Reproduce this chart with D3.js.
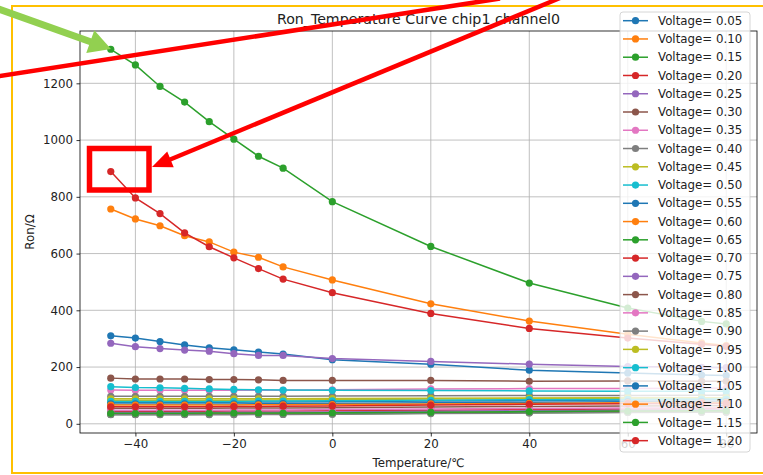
<!DOCTYPE html>
<html>
<head>
<meta charset="utf-8">
<script src="https://cdn.jsdelivr.net/npm/d3@7"></script>
<style>
  body { margin: 0; background: #fff; }
  svg { display: block; font-family: "DejaVu Sans", sans-serif; }
</style>
</head>
<body>
<div id="chart"></div>
<script>
// Temperatures (x) and the legend voltages
var temperatures = [-45, -40, -35, -30, -25, -20, -15, -10, 0, 20, 40, 60, 75, 80];
var voltages = ["0.05", "0.10", "0.15", "0.20", "0.25", "0.30", "0.35", "0.40", "0.45", "0.50",
                "0.55", "0.60", "0.65", "0.70", "0.75", "0.80", "0.85", "0.90", "0.95", "1.00",
                "1.05", "1.10", "1.15", "1.20"];

// Ron values, one array per voltage
var ron_005 = [310, 302, 290, 278, 268, 261, 253, 246, 226, 210, 189, 179, 172, 170];
var ron_010 = [757, 722, 698, 663, 641, 605, 587, 553, 507, 423, 362, 316, 285, 276];
var ron_015 = [1320, 1265, 1189, 1134, 1065, 1003, 943, 901, 783, 625, 496, 408, 361, 352];
var ron_020 = [889, 796, 741, 673, 624, 585, 547, 510, 462, 389, 336, 302, 280, 273];
var ron_025 = [284, 272, 265, 260, 256, 247, 241, 241, 230, 220, 210, 202, 199, 198];
var ron_030 = [161, 158, 158, 158, 156, 156, 155, 153, 153, 153, 150, 151, 150, 150];
var ron_035 = [119, 118, 118, 118, 118, 118, 118, 118, 120, 123, 124, 124, 125, 125];
var ron_040 = [97, 97, 97, 97, 97, 97, 97, 97, 98, 99, 100, 100, 101, 101];
var ron_045 = [88, 88, 88, 88, 88, 88, 88, 88, 89, 90, 91, 92, 92, 92];
var ron_050 = [131, 128, 127, 125, 123, 121, 120, 119, 118, 117, 116, 115, 115, 115];
var ron_055 = [76, 76, 76, 76, 76, 76, 77, 77, 78, 80, 82, 84, 85, 85];
var ron_060 = [36, 36, 36, 36, 36, 37, 37, 37, 38, 40, 41, 43, 44, 44];
var ron_065 = [33, 33, 33, 33, 34, 34, 34, 34, 35, 37, 39, 41, 42, 42];
var ron_070 = [44, 44, 44, 44, 44, 45, 45, 45, 46, 48, 50, 52, 53, 53];
var ron_075 = [40, 40, 40, 40, 40, 41, 41, 41, 42, 44, 46, 48, 49, 49];
var ron_080 = [55, 55, 55, 55, 55, 56, 56, 56, 57, 59, 61, 63, 64, 64];
var ron_085 = [48, 48, 48, 48, 48, 49, 49, 49, 50, 52, 54, 56, 57, 57];
var ron_090 = [32, 32, 32, 32, 32, 32, 33, 33, 34, 36, 38, 40, 41, 41];
var ron_095 = [83, 83, 83, 83, 83, 83, 84, 84, 85, 87, 89, 90, 91, 91];
var ron_100 = [79, 79, 79, 79, 79, 79, 80, 80, 81, 83, 85, 86, 87, 87];
var ron_105 = [70, 70, 70, 70, 70, 70, 71, 71, 72, 74, 76, 78, 79, 79];
var ron_110 = [66, 66, 66, 66, 66, 66, 67, 67, 68, 70, 72, 74, 75, 75];
var ron_115 = [37, 37, 37, 37, 38, 38, 38, 38, 39, 41, 43, 45, 46, 46];
var ron_120 = [60, 60, 60, 60, 60, 61, 61, 62, 63, 66, 69, 71, 72, 72];

var x_ticks = [-40, -20, 0, 20, 40, 60, 80];
var y_ticks = [0, 200, 400, 600, 800, 1000, 1200];

var all_series = [ron_005, ron_010, ron_015, ron_020, ron_025, ron_030, ron_035, ron_040,
                  ron_045, ron_050, ron_055, ron_060, ron_065, ron_070, ron_075, ron_080,
                  ron_085, ron_090, ron_095, ron_100, ron_105, ron_110, ron_115, ron_120];

//Matplotlib tab10 colour cycle
var tab10 = ["#1f77b4", "#ff7f0e", "#2ca02c", "#d62728", "#9467bd",
             "#8c564b", "#e377c2", "#7f7f7f", "#bcbd22", "#17becf"];

var W = 763, H = 475;
var plot = {left: 80, right: 757, top: 31, bottom: 433};

var svg = d3.select("#chart").append("svg")
    .attr("width", W)
    .attr("height", H);

//Domains padded by 5% like matplotlib does
var xmin = d3.min(temperatures), xmax = d3.max(temperatures);
var ymin = d3.min(all_series, function(s) { return d3.min(s); }),
    ymax = d3.max(all_series, function(s) { return d3.max(s); });
var xpad = (xmax - xmin) * 0.05, ypad = (ymax - ymin) * 0.05;

var x = d3.scaleLinear()
    .domain([xmin - xpad, xmax + xpad])
    .range([plot.left, plot.right]);
var y = d3.scaleLinear()
    .domain([ymin - ypad, ymax + ypad])
    .range([plot.bottom, plot.top]);

//Grid
svg.append("g").selectAll("line")
    .data(x_ticks).enter().append("line")
    .attr("x1", function(d) { return x(d); })
    .attr("x2", function(d) { return x(d); })
    .attr("y1", plot.top).attr("y2", plot.bottom)
    .attr("stroke", "#b0b0b0").attr("stroke-width", 0.8);
svg.append("g").selectAll("line")
    .data(y_ticks).enter().append("line")
    .attr("y1", function(d) { return y(d); })
    .attr("y2", function(d) { return y(d); })
    .attr("x1", plot.left).attr("x2", plot.right)
    .attr("stroke", "#b0b0b0").attr("stroke-width", 0.8);

//Lines and markers, clipped to the axes
svg.append("clipPath").attr("id", "clip")
    .append("rect")
    .attr("x", plot.left).attr("y", plot.top)
    .attr("width", plot.right - plot.left)
    .attr("height", plot.bottom - plot.top);

var line = d3.line()
    .x(function(d, i) { return x(temperatures[i]); })
    .y(function(d) { return y(d); });

var lines_g = svg.append("g").attr("clip-path", "url(#clip)");
all_series.forEach(function(series, k) {
    var colour = tab10[k % 10];
    var g = lines_g.append("g");
    g.append("path")
        .attr("d", line(series))
        .attr("fill", "none")
        .attr("stroke", colour)
        .attr("stroke-width", 1.5);
    g.selectAll("circle")
        .data(series).enter().append("circle")
        .attr("cx", function(d, i) { return x(temperatures[i]); })
        .attr("cy", function(d) { return y(d); })
        .attr("r", 3.6)
        .attr("fill", colour);
});

//Axes (plain integers, no thousands comma)
var xAxis = d3.axisBottom(x).tickValues(x_ticks).tickSize(3.5).tickPadding(3.5).tickFormat(d3.format("d"));
var yAxis = d3.axisLeft(y).tickValues(y_ticks).tickSize(3.5).tickPadding(3.5).tickFormat(d3.format("d"));

var gx = svg.append("g")
    .attr("transform", "translate(0," + plot.bottom + ")")
    .call(xAxis);
var gy = svg.append("g")
    .attr("transform", "translate(" + plot.left + ",0)")
    .call(yAxis);
[gx, gy].forEach(function(g) {
    g.select(".domain").remove();
    g.selectAll("line").attr("stroke", "#000").attr("stroke-width", 0.8);
    g.selectAll("text")
        .attr("fill", "#222")
        .style("font-size", "11.8px")
        .style("font-family", "DejaVu Sans");
});

//Spines
svg.append("rect")
    .attr("x", plot.left).attr("y", plot.top)
    .attr("width", plot.right - plot.left)
    .attr("height", plot.bottom - plot.top)
    .attr("fill", "none")
    .attr("stroke", "#000")
    .attr("stroke-width", 0.8);

//Title and axis labels
svg.append("text")
    .attr("x", (plot.left + plot.right) / 2)
    .attr("y", 24)
    .attr("text-anchor", "middle")
    .style("font-size", "14.2px")
    .attr("fill", "#222")
    .text("Ron_Temperature Curve chip1 channel0");

svg.append("text")
    .attr("x", (plot.left + plot.right) / 2)
    .attr("y", 467)
    .attr("text-anchor", "middle")
    .style("font-size", "11.8px")
    .attr("fill", "#222")
    .text("Temperature/℃");

svg.append("text")
    .attr("transform", "translate(34," + ((plot.top + plot.bottom) / 2) + ") rotate(-90)")
    .attr("text-anchor", "middle")
    .style("font-size", "11.8px")
    .attr("fill", "#222")
    .text("Ron/Ω");

//Legend, center right
var leg = {x: 620, y: 12, w: 130, h: 440, row: 18.26, first: 20.7};
svg.append("rect")
    .attr("x", leg.x).attr("y", leg.y)
    .attr("width", leg.w).attr("height", leg.h)
    .attr("rx", 3)
    .attr("fill", "#fff").attr("fill-opacity", 0.8)
    .attr("stroke", "#cccccc").attr("stroke-width", 0.8);

var entries = svg.append("g").selectAll("g")
    .data(voltages).enter().append("g")
    .attr("transform", function(d, i) { return "translate(0," + (leg.first + i * leg.row) + ")"; });
entries.append("line")
    .attr("x1", 623).attr("x2", 648)
    .attr("stroke", function(d, i) { return tab10[i % 10]; })
    .attr("stroke-width", 1.5);
entries.append("circle")
    .attr("cx", 635.5).attr("r", 3.6)
    .attr("fill", function(d, i) { return tab10[i % 10]; });
entries.append("text")
    .attr("x", 658)
    .attr("dy", "0.35em")
    .style("font-size", "11.8px")
    .attr("fill", "#222")
    .text(function(d) { return "Voltage= " + d; });

//Hand drawn annotations on top of the screenshot
var notes = svg.append("g");

notes.append("rect")
    .attr("x", 12).attr("y", 6)
    .attr("width", 760).attr("height", 467)
    .attr("fill", "none")
    .attr("stroke", "#ffc000")
    .attr("stroke-width", 2);

function arrow(x0, y0, x1, y1, shaft, headLen, headW, colour) {
    var dx = x1 - x0, dy = y1 - y0, len = Math.sqrt(dx * dx + dy * dy);
    var ux = dx / len, uy = dy / len, nx = -uy, ny = ux;
    var bx = x1 - ux * headLen, by = y1 - uy * headLen;
    notes.append("line")
        .attr("x1", x0).attr("y1", y0)
        .attr("x2", bx + ux).attr("y2", by + uy)
        .attr("stroke", colour).attr("stroke-width", shaft);
    notes.append("path")
        .attr("d", "M" + x1 + "," + y1 +
            "L" + (bx + nx * headW / 2) + "," + (by + ny * headW / 2) +
            "L" + (bx - nx * headW / 2) + "," + (by - ny * headW / 2) + "Z")
        .attr("fill", colour);
}

//Green arrow pointing at the first point of the top curve
arrow(-4, 8, 111, 49, 7, 22, 24, "#92d050");

//Red line across the top
notes.append("line")
    .attr("x1", -4).attr("y1", 76.6)
    .attr("x2", 500).attr("y2", -1.5)
    .attr("stroke", "#ff0000").attr("stroke-width", 4.5);

//Red arrow pointing at the box
arrow(560, -2, 152, 167, 4.5, 20, 17, "#ff0000");

//Red box around the outlying point
notes.append("rect")
    .attr("x", 89.5).attr("y", 148.5)
    .attr("width", 59.5).attr("height", 41.5)
    .attr("fill", "none")
    .attr("stroke", "#ff0000")
    .attr("stroke-width", 5.5);
</script>
</body>
</html>
